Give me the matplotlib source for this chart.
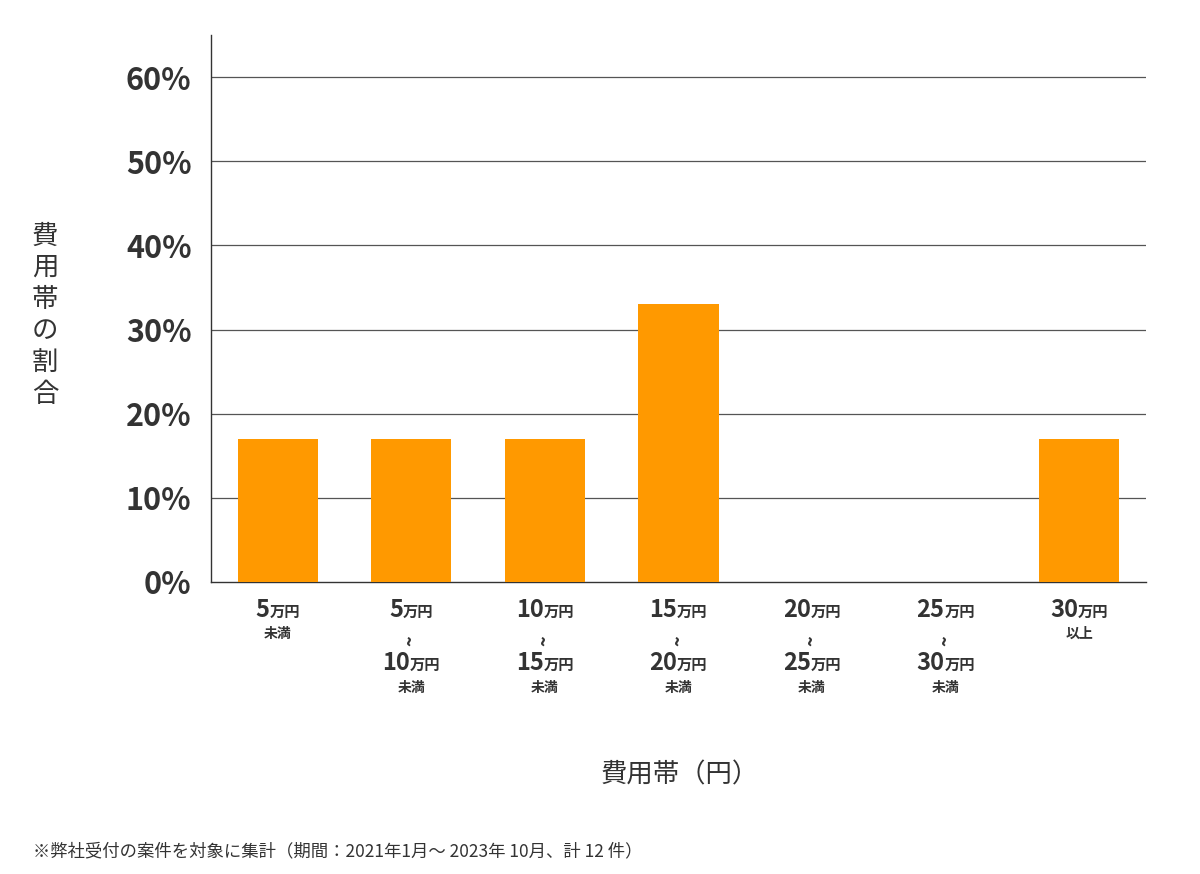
import matplotlib
matplotlib.use("Agg")
import matplotlib.pyplot as plt
from matplotlib.offsetbox import TextArea, HPacker, AnnotationBbox

plt.rcParams['font.family'] = ['Noto Sans CJK JP', 'DejaVu Sans']

categories = ["5万円未満", "5万円〜10万円未満", "10万円〜15万円未満", "15万円〜20万円未満",
              "20万円〜25万円未満", "25万円〜30万円未満", "30万円以上"]
label_parts = [[("5", "万円")], [("5", "万円"), ("10", "万円")], [("10", "万円"), ("15", "万円")],
               [("15", "万円"), ("20", "万円")], [("20", "万円"), ("25", "万円")],
               [("25", "万円"), ("30", "万円")], [("30", "万円")]]
suffixes = ["未満", "未満", "未満", "未満", "未満", "未満", "以上"]
values = [17, 17, 17, 33, 0, 0, 17]
yticks = [0, 10, 20, 30, 40, 50, 60]

fig = plt.figure(figsize=(12, 8.74), dpi=100)
ax = fig.add_axes([211/1200, 1-582/874, 935/1200, (582-35)/874])
x = list(range(len(values)))
ax.bar(x, values, width=0.6, color="#ff9900", zorder=3)
ax.set_xlim(-0.5, 6.5)
ax.set_ylim(0, 65)
ax.set_yticks(yticks)
ax.set_yticklabels([f"{v}%" for v in yticks], fontsize=22, fontweight='bold', color='#333333')
ax.tick_params(axis='y', length=0, pad=14)
ax.tick_params(axis='x', length=0)
ax.set_xticks([])
for v in yticks[1:]:
    ax.axhline(v, color='#555555', lw=0.9, zorder=1)
for s in ['top', 'right']:
    ax.spines[s].set_visible(False)
for s in ['left', 'bottom']:
    ax.spines[s].set_color('#333333')
    ax.spines[s].set_linewidth(1)

col = '#333333'

def place(box, i, py):
    ab = AnnotationBbox(box, (i, 0), xybox=(0, -(py - 582)), xycoords='data',
                        boxcoords='offset pixels', box_alignment=(0.5, 0.5), frameon=False, pad=0)
    ax.add_artist(ab)

def numbox(num, unit):
    return HPacker(children=[
        TextArea(num, textprops=dict(fontsize=17, fontweight='bold', color=col)),
        TextArea(unit, textprops=dict(fontsize=11, fontweight='bold', color=col))],
        align='baseline', pad=0, sep=0)

for i, parts in enumerate(label_parts):
    place(numbox(*parts[0]), i, 610)
    if len(parts) > 1:
        place(TextArea("~", textprops=dict(fontsize=13, fontweight='bold', color=col, rotation=90)), i, 636)
        place(numbox(*parts[1]), i, 663)
        place(TextArea(suffixes[i], textprops=dict(fontsize=10, fontweight='bold', color=col)), i, 688)
    else:
        place(TextArea(suffixes[i], textprops=dict(fontsize=10, fontweight='bold', color=col)), i, 634)

fig.text(45/1200, 1-315/874, "費\n用\n帯\nの\n割\n合", fontsize=19, color=col,
         ha='center', va='center', linespacing=1.22)
fig.text(680/1200, 1-775/874, "費用帯（円）", fontsize=19, color=col, ha='center', va='center')
fig.text(33/1200, 1-851/874, "※弊社受付の案件を対象に集計（期間：2021年1月～ 2023年 10月、計 12 件）",
         fontsize=12.5, color=col, ha='left', va='center')
fig.savefig("out.png", dpi=100)
